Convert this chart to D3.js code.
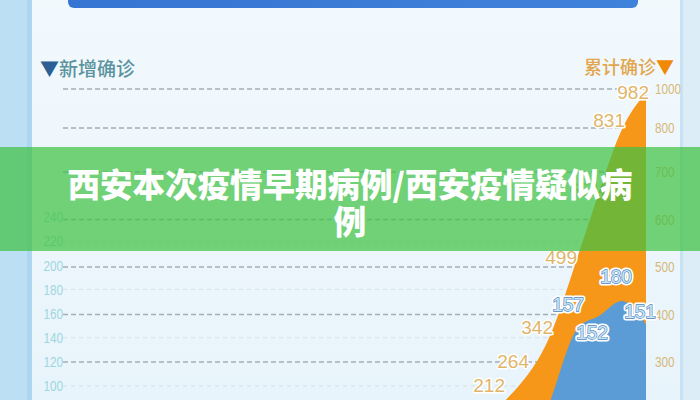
<!DOCTYPE html>
<html><head><meta charset="utf-8">
<script src="https://cdn.jsdelivr.net/npm/d3@7"></script>
<style>html,body{margin:0;padding:0;background:#e9f4fb;overflow:hidden}svg{display:block}</style>
</head><body><svg id="c" width="700" height="400"></svg>
<script>
// ---- data ----
const days = ["D1","D2","D3","D4","D5","D6","D7"];
const cumulative = [212, 264, 342, 499, 651, 831, 982];
const newCases = [null, 52, 78, 157, 152, 180, 151];
const newLabelSide = ["", "", "", "above", "below", "above", "above"];
const leftTicks = [100, 120, 140, 160, 180, 200, 220, 240];
const rightTicks = [300, 400, 500, 600, 700, 800, 1000];
const leftTitle = "新增确诊";
const rightTitle = "累计确诊";
const bannerLines = ["西安本次疫情早期病例/西安疫情疑似病", "例"];

// ---- layout ----
const W = 700, H = 400;
const gridX0 = 63, gridX1 = 646;
const svg = d3.select("#c");
const defs = svg.append("defs");
const g1 = defs.append("linearGradient").attr("id","panel").attr("x1",0).attr("y1",0).attr("x2",0).attr("y2",1);
g1.append("stop").attr("offset",0).attr("stop-color","#f2f9fd");
g1.append("stop").attr("offset",1).attr("stop-color","#e8f4fb");
const g2 = defs.append("linearGradient").attr("id","bar").attr("x1",0).attr("y1",0).attr("x2",1).attr("y2",0);
g2.append("stop").attr("offset",0).attr("stop-color","#3675d2");
g2.append("stop").attr("offset",1).attr("stop-color","#3f82db");

svg.append("rect").attr("width",W).attr("height",H).attr("fill","#dcedf8");
svg.append("rect").attr("x",0).attr("width",27).attr("height",H).attr("fill","#bcdff4");
svg.append("rect").attr("x",27).attr("width",5).attr("height",H).attr("fill","#acd5f0");
svg.append("rect").attr("x",32).attr("width",648).attr("height",H).attr("fill","url(#panel)");
svg.append("rect").attr("x",680).attr("width",3).attr("height",H).attr("fill","#c6e2f4");
svg.append("rect").attr("x",68).attr("y",-14).attr("width",570).attr("height",22).attr("rx",6).attr("fill","url(#bar)");

// ---- scales ----
const x = d3.scalePoint().domain(days).range([502, 646]);
const yL = d3.scaleLinear().domain([100, 240]).range([386, 217]);
const yR = d3.scaleLinear().domain([300, 700, 800, 1000]).range([362, 172, 128, 89]);

// ---- grid ----
const grid = svg.append("g");
grid.selectAll("line.dark").data(rightTicks).join("line").attr("class","dark")
  .attr("x1",gridX0).attr("x2",gridX1).attr("y1",d=>yR(d)).attr("y2",d=>yR(d))
  .attr("stroke","#a3aeb6").attr("stroke-width",1.3).attr("stroke-dasharray","5,3");
const lightTicks = leftTicks.filter(t => !rightTicks.some(r => Math.abs(yR(r) - yL(t)) < 4));
grid.selectAll("line.light").data(lightTicks).join("line").attr("class","light")
  .attr("x1",gridX0).attr("x2",gridX1).attr("y1",d=>yL(d)).attr("y2",d=>yL(d))
  .attr("stroke","#d6e0e6").attr("stroke-width",1).attr("stroke-dasharray","4,4");

// ---- axes (labels only) ----
const tickFont = "'Liberation Sans',Arial,sans-serif";
const axL = svg.append("g").attr("transform",`translate(${gridX0},0)`)
  .call(d3.axisLeft(yL).tickValues(leftTicks).tickFormat(d3.format("d")).tickSize(0).tickPadding(0));
axL.select(".domain").remove();
axL.selectAll("text").attr("fill","#9ed6df").attr("font-size",15)
  .attr("font-family",tickFont).attr("transform","scale(0.78,1)");
const axR = svg.append("g").attr("transform",`translate(655,0)`)
  .call(d3.axisRight(yR).tickValues(rightTicks).tickFormat(d3.format("d")).tickSize(0).tickPadding(0));
axR.select(".domain").remove();
axR.selectAll("text").attr("fill","#d6b877").attr("font-size",15)
  .attr("font-family",tickFont).attr("transform","scale(0.78,1)");

// ---- areas ----
const cumData = days.map((d,i)=>({d, v: cumulative[i]}));
const newData = days.map((d,i)=>({d, v: newCases[i], side: newLabelSide[i]})).filter(p=>p.v!=null);
const bottom = H + 20;
svg.append("path").datum(cumData)
  .attr("d", d3.area().curve(d3.curveBasis).x(p=>x(p.d)).y0(bottom).y1(p=>yR(p.v)))
  .attr("fill","#f7971a");
svg.append("path").datum(newData)
  .attr("d", d3.area().curve(d3.curveBasis).x(p=>x(p.d)).y0(bottom).y1(p=>yL(p.v)))
  .attr("fill","#5b9bd6");

// ---- value labels ----
const lift = d3.scaleLinear().domain([400, 90]).range([-12, 7]);
const numFont = "'Liberation Sans',Arial,sans-serif";
svg.append("g").selectAll("text").data(cumData).join("text")
  .attr("x", p => x(p.d) + 3)
  .attr("y", p => yR(p.v) + lift(yR(p.v)))
  .attr("text-anchor","end").attr("font-family",numFont).attr("font-size",19)
  .attr("fill","#dfb56a").attr("stroke","#ffffff").attr("stroke-width",3)
  .attr("paint-order","stroke").attr("stroke-linejoin","round")
  .text(p => p.v);

const nl = svg.append("g").selectAll("g").data(newData.filter(p=>p.side)).join("g")
  .attr("transform", p => `translate(${x(p.d) - 6},${p.side === "below" ? yL(p.v) + 16 : yL(p.v) - 6})`);
nl.append("text").attr("text-anchor","middle").attr("font-family",numFont).attr("font-size",19)
  .attr("fill","#ffffff").attr("stroke","#ffffff").attr("stroke-width",5).attr("stroke-linejoin","round")
  .text(p=>p.v);
nl.append("text").attr("text-anchor","middle").attr("font-family",numFont).attr("font-size",19)
  .attr("fill","#cfe4f4").attr("stroke","#4a86bf").attr("stroke-width",1.3).attr("paint-order","stroke")
  .text(p=>p.v);

// ---- series titles ----
const cjk = "'Noto Sans CJK SC','Noto Sans',sans-serif";
const lt = svg.append("text").attr("x",40).attr("y",76).attr("font-family",cjk).attr("font-size",19).attr("font-weight",500);
lt.append("tspan").attr("fill","#2c5f93").text("▼");
lt.append("tspan").attr("fill","#5b939e").text(leftTitle);
const rt = svg.append("text").attr("x",674).attr("y",74).attr("text-anchor","end").attr("font-family",cjk).attr("font-size",18).attr("font-weight",500);
rt.append("tspan").attr("fill","#e2a64e").text(rightTitle);
rt.append("tspan").attr("fill","#f08a05").text("▼");

// ---- banner ----
svg.append("rect").attr("x",0).attr("y",147).attr("width",W).attr("height",104).attr("fill","rgba(64,194,66,0.72)");
svg.append("g").selectAll("text").data(bannerLines).join("text")
  .attr("x", W/2).attr("y", (d,i)=>197 + i*37).attr("text-anchor","middle")
  .attr("font-family",cjk).attr("font-weight",900).attr("font-size",32.5).attr("fill","#ffffff")
  .text(d=>d);
</script></body></html>
